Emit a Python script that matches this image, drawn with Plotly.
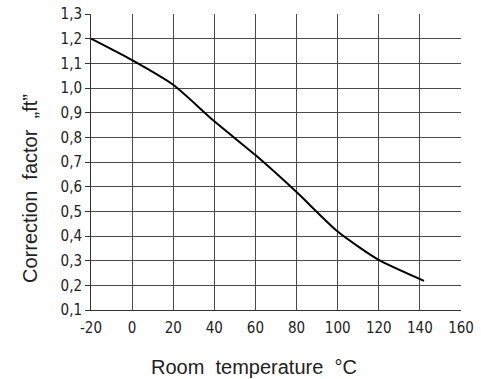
import plotly.graph_objects as go

temperature = [-20, 0, 20, 40, 60, 80, 100, 120, 142]
factor = [1.20, 1.113, 1.013, 0.865, 0.728, 0.578, 0.418, 0.303, 0.218]

x_ticks = [-20, 0, 20, 40, 60, 80, 100, 120, 140, 160]
y_ticks = [0.1, 0.2, 0.3, 0.4, 0.5, 0.6, 0.7, 0.8, 0.9, 1.0, 1.1, 1.2, 1.3]
y_labels = [f"{v:.1f}".replace(".", ",") for v in y_ticks]

x_title = "Room\u00a0\u00a0temperature\u00a0\u00a0°C"
y_title = "Correction\u00a0\u00a0factor\u00a0\u00a0\u201eft\u201d"

fig = go.Figure()
fig.add_trace(go.Scatter(
    x=temperature, y=factor, mode="lines",
    line=dict(color="black", width=2, shape="spline", smoothing=0.6),
    showlegend=False, hoverinfo="skip",
))

tick_font = dict(family="Liberation Sans Narrow, DejaVu Sans Condensed, sans-serif", size=15, color="#222")
title_font = dict(family="Liberation Sans, sans-serif", size=20, color="#222")

fig.update_layout(
    width=481, height=379,
    margin=dict(l=91, r=20, t=14, b=69),
    paper_bgcolor="white", plot_bgcolor="white",
    xaxis=dict(
        range=[-20, 160], tickvals=x_ticks, ticktext=[str(v) for v in x_ticks],
        showgrid=True, gridcolor="#4a4a4a", gridwidth=1,
        showline=True, linecolor="#333", linewidth=1,
        ticks="outside", ticklen=4, tickcolor="white", tickfont=tick_font,
        zeroline=False, automargin=False,
    ),
    yaxis=dict(
        range=[0.1, 1.3], tickvals=y_ticks, ticktext=y_labels,
        showgrid=True, gridcolor="#4a4a4a", gridwidth=1,
        showline=True, linecolor="#333", linewidth=1,
        ticks="outside", ticklen=5, tickcolor="#333", tickfont=tick_font,
        zeroline=False, automargin=False,
    ),
    annotations=[
        dict(text=x_title, xref="paper", yref="paper", x=(254 - 91) / 370, y=-(367 - 310) / 296,
             xanchor="center", yanchor="middle", showarrow=False, font=title_font),
        dict(text=y_title, xref="paper", yref="paper", x=-(91 - 30) / 370, y=(310 - 189) / 296,
             xanchor="center", yanchor="middle", showarrow=False, font=title_font, textangle=-90),
    ],
)

fig.write_html(
    "out.html",
    config={"displayModeBar": False},
    post_script="document.body.style.margin='0';document.body.style.padding='0';document.body.style.overflow='hidden';",
)
